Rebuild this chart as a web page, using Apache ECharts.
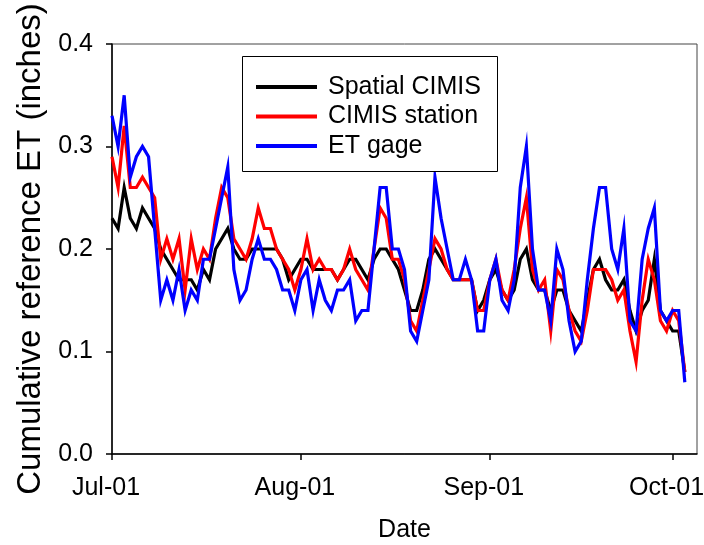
<!DOCTYPE html>
<html>
<head>
<meta charset="utf-8">
<script src="https://cdn.jsdelivr.net/npm/echarts@6/dist/echarts.min.js"></script>
<style>
  html, body { margin: 0; padding: 0; background: #fff; }
  #chart { width: 704px; height: 545px; }
</style>
</head>
<body>
<div id="chart"></div>
<script>
// Day index 0 = Jul-01 (daily values)
const tickDays = [0, 31, 62, 92];
const tickLabels = ['Jul-01', 'Aug-01', 'Sep-01', 'Oct-01'];
const seriesNames = ['Spatial CIMIS', 'CIMIS station', 'ET gage'];

const spatialCIMIS = [
  0.23,0.22,0.26,0.23,0.22,0.24,0.23,0.22,0.20,0.19,
  0.18,0.17,0.17,0.17,0.16,0.18,0.17,0.20,0.21,0.22,
  0.20,0.19,0.19,0.20,0.20,0.20,0.20,0.20,0.19,0.17,
  0.18,0.19,0.19,0.18,0.18,0.18,0.18,0.17,0.18,0.19,
  0.19,0.18,0.17,0.19,0.20,0.20,0.19,0.18,0.16,0.14,
  0.14,0.16,0.19,0.20,0.19,0.18,0.17,0.17,0.17,0.17,
  0.14,0.15,0.17,0.18,0.16,0.15,0.16,0.19,0.20,0.17,
  0.16,0.16,0.14,0.16,0.16,0.14,0.13,0.12,0.15,0.18,
  0.19,0.17,0.16,0.16,0.17,0.14,0.12,0.14,0.15,0.19,
  0.14,0.13,0.12,0.12,0.08
];
const cimisStation = [
  0.29,0.26,0.32,0.26,0.26,0.27,0.26,0.25,0.19,0.21,
  0.19,0.21,0.16,0.21,0.18,0.20,0.19,0.23,0.26,0.25,
  0.21,0.20,0.19,0.21,0.24,0.22,0.22,0.20,0.19,0.18,
  0.16,0.18,0.21,0.18,0.19,0.18,0.18,0.17,0.18,0.20,
  0.18,0.17,0.16,0.20,0.24,0.23,0.19,0.19,0.17,0.13,
  0.12,0.15,0.18,0.21,0.20,0.18,0.17,0.17,0.17,0.17,
  0.14,0.14,0.17,0.19,0.16,0.15,0.18,0.22,0.25,0.18,
  0.16,0.17,0.12,0.18,0.17,0.14,0.12,0.11,0.14,0.18,
  0.18,0.18,0.17,0.15,0.16,0.12,0.09,0.15,0.19,0.17,
  0.13,0.12,0.14,0.13,0.08
];
const etGage = [
  0.33,0.30,0.35,0.27,0.29,0.30,0.29,0.22,0.15,0.17,
  0.15,0.18,0.14,0.16,0.15,0.19,0.19,0.22,0.25,0.28,
  0.18,0.15,0.16,0.19,0.21,0.19,0.19,0.18,0.16,0.16,
  0.14,0.17,0.18,0.14,0.17,0.15,0.14,0.16,0.16,0.17,
  0.13,0.14,0.14,0.20,0.26,0.26,0.20,0.20,0.18,0.12,
  0.11,0.14,0.17,0.27,0.23,0.20,0.17,0.17,0.19,0.17,
  0.12,0.12,0.17,0.19,0.15,0.14,0.17,0.26,0.30,0.20,
  0.16,0.16,0.13,0.20,0.18,0.13,0.10,0.11,0.17,0.22,
  0.26,0.26,0.20,0.18,0.22,0.13,0.12,0.19,0.22,0.24,
  0.14,0.13,0.14,0.14,0.07
];
const seriesValues = [spatialCIMIS, cimisStation, etGage];
const seriesColors = ['#000000', '#ff0000', '#0000ff'];

const FONT = '"Liberation Sans", Arial, sans-serif';
const chart = echarts.init(document.getElementById('chart'), null, { renderer: 'canvas' });

const option = {
  animation: false,
  backgroundColor: '#ffffff',
  grid: {
    left: 112, right: 7, top: 44, bottom: 91,
    containLabel: false, outerBoundsMode: 'none',
    show: true, borderColor: '#444', borderWidth: 1, backgroundColor: 'transparent'
  },
  graphic: [{
    type: 'rect',
    shape: { x: 242.5, y: 56.5, width: 255, height: 115 },
    style: { fill: '#fff', stroke: '#000', lineWidth: 1 },
    z: 5
  }],
  legend: {
    orient: 'vertical',
    left: 251, top: 68,
    itemWidth: 61, itemHeight: 4, itemGap: 1.5,
    icon: 'rect',
    data: seriesNames,
    textStyle: { fontFamily: FONT, fontSize: 25, color: '#000', lineHeight: 28, padding: [0, 0, 0, 6] },
    z: 6
  },
  xAxis: {
    type: 'value', min: 0, max: 96,
    name: 'Date', nameLocation: 'middle', nameGap: 64,
    nameTextStyle: { fontFamily: FONT, fontSize: 25, color: '#000' },
    axisLine: { show: true, onZero: false, lineStyle: { color: '#000', width: 1.5 } },
    axisTick: { show: true, inside: false, length: 6, customValues: tickDays, lineStyle: { color: '#000', width: 1.5 } },
    axisLabel: {
      customValues: tickDays, margin: 22,
      fontFamily: FONT, fontSize: 25, color: '#000',
      padding: [0, 12, 0, 0],
      hideOverlap: false,
      formatter: v => tickLabels[tickDays.indexOf(Math.round(v))] || ''
    },
    splitLine: { show: false }
  },
  yAxis: {
    type: 'value', min: 0, max: 0.4, interval: 0.1,
    name: 'Cumulative reference ET (inches)', nameLocation: 'middle', nameGap: 65,
    nameTextStyle: { fontFamily: FONT, fontSize: 33, color: '#000' },
    axisLine: { show: true, onZero: false, lineStyle: { color: '#000', width: 1.5 } },
    axisTick: { show: true, inside: false, length: 6, lineStyle: { color: '#000', width: 1.5 } },
    axisLabel: {
      margin: 19, fontFamily: FONT, fontSize: 25, color: '#000',
      formatter: v => v.toFixed(1)
    },
    splitLine: { show: false }
  },
  series: seriesNames.map((name, k) => ({
    name: name,
    type: 'line',
    showSymbol: false,
    symbol: 'none',
    color: seriesColors[k],
    lineStyle: { width: 3.2, color: seriesColors[k], join: 'miter' },
    z: 2 + k,
    data: seriesValues[k].map((v, i) => [i, v])
  }))
};
chart.setOption(option);
</script>
</body>
</html>
